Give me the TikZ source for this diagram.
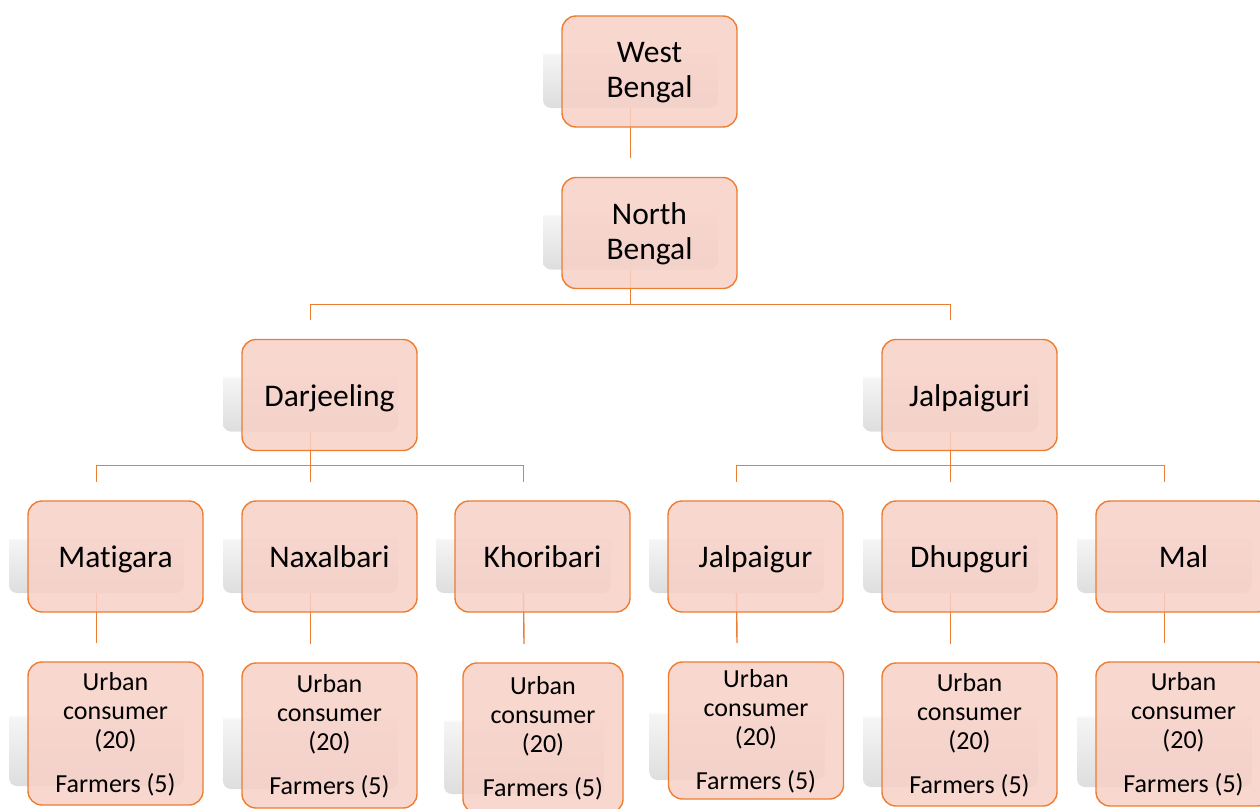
\documentclass[tikz,border=0pt]{standalone}
\usepackage{fontspec}
\setmainfont{Carlito}[Ligatures=CommonOff]
\definecolor{boxorange}{RGB}{237,125,49}
\definecolor{boxpink}{RGB}{247,208,199}
\pgfdeclareverticalshading{ghostfade}{100bp}{color(0bp)=(black!13); color(25bp)=(black!13); color(49bp)=(black!4); color(50bp)=(white); color(100bp)=(white)}
\tikzset{ghost/.style = {shade, shading=ghostfade, rounded corners=8pt, inner sep=0pt, minimum width=175pt, minimum height=111pt},
         box/.style = {draw=boxorange, line width=1.4pt, fill=boxpink, fill opacity=0.85, text opacity=1, rounded corners=14pt,
                       minimum width=175pt, minimum height=111pt, inner sep=2pt, text depth=3pt, align=center, font=\fontsize{31.5}{35}\selectfont},
         oneline/.style = {text height=25pt},
         small/.style = {font=\fontsize{26}{29}\selectfont},
         link/.style = {draw=boxorange, line width=1.4pt}}

\begin{document}
\begin{tikzpicture}[x=1pt,y=-1pt]
        \useasboundingbox (0,0) rectangle (1260,808);
        \clip (0,0) rectangle (1260,808);
        % grey shapes behind the boxes
        \node[ghost] (wb) at (630.5,52.5) {};
        \node[ghost] (nb) at (630.5,214) {};
        \node[ghost] (dj) at (310.5,376) {};
        \node[ghost] (jp) at (950.5,376) {};
        \node[ghost] (mt) at (96.5,537.5) {};
        \node[ghost] (nx) at (310.5,537.5) {};
        \node[ghost] (kb) at (523.5,537.5) {};
        \node[ghost] (jg) at (736.5,537.5) {};
        \node[ghost] (dh) at (950.5,537.5) {};
        \node[ghost] (ml) at (1164.5,537.5) {};
        \node[ghost, minimum height=143pt] (urbmt) at (96.5,714.5) {};
        \node[ghost, minimum height=145pt] (urbnx) at (310.5,716.5) {};
        \node[ghost, minimum height=150pt, minimum width=160pt] (urbkb) at (524,719) {};
        \node[ghost, minimum height=137pt] (urbjg) at (737,711.5) {};
        \node[ghost, minimum height=143pt] (urbdh) at (950.5,715.5) {};
        \node[ghost, minimum height=144pt] (urbml) at (1164.5,715) {};

        % links
        \draw[link] (wb.south) -- (nb.north);
        \draw[link] (nb.south) -- ++(0,35) -| (dj.north);
        \draw[link] (nb.south) -- ++(0,35) -| (jp.north);
        \draw[link] (dj.south) -- ++(0,34) -| (mt.north);
        \draw[link] (dj.south) -- ++(0,34) -| (nx.north);
        \draw[link] (dj.south) -- ++(0,34) -| (kb.north);
        \draw[link] (jp.south) -- ++(0,34) -| (jg.north);
        \draw[link] (jp.south) -- ++(0,34) -| (dh.north);
        \draw[link] (jp.south) -- ++(0,34) -| (ml.north);
        \draw[link] (mt.south) -- (urbmt.north);
        \draw[link] (nx.south) -- (urbnx.north);
        \draw[link] (kb.south) -- (urbkb.north);
        \draw[link] (jg.south) -- (urbjg.north);
        \draw[link] (dh.south) -- (urbdh.north);
        \draw[link] (ml.south) -- (urbml.north);

        % boxes
        \node[box] (wb-txt) at ([shift={(19,19)}]wb) {West\\Bengal};
        \node[box] (nb-txt) at ([shift={(19,19)}]nb) {North\\Bengal};
        \node[box, oneline] (dj-txt) at ([shift={(19,19)}]dj) {Darjeeling};
        \node[box, oneline] (jp-txt) at ([shift={(19,19)}]jp) {Jalpaiguri};
        \node[box, oneline] (mt-txt) at ([shift={(19,19)}]mt) {Matigara};
        \node[box, oneline] (nx-txt) at ([shift={(19,19)}]nx) {Naxalbari};
        \node[box, oneline] (kb-txt) at ([shift={(19,19)}]kb) {Khoribari};
        \node[box, oneline] (jg-txt) at ([shift={(19,19)}]jg) {Jalpaigur};
        \node[box, oneline] (dh-txt) at ([shift={(19,19)}]dh) {Dhupguri};
        \node[box, oneline] (ml-txt) at ([shift={(19,19)}]ml) {Mal};
        \node[box, small, minimum height=143pt] (urbmt-txt) at ([shift={(19,19)}]urbmt) {Urban\\consumer\\(20)\\[15pt]Farmers (5)};
        \node[box, small, minimum height=145pt] (urbnx-txt) at ([shift={(19,19)}]urbnx) {Urban\\consumer\\(20)\\[15pt]Farmers (5)};
        \node[box, small, minimum height=150pt, minimum width=160pt] (urbkb-txt) at ([shift={(19,19)}]urbkb) {Urban\\consumer\\(20)\\[15pt]Farmers (5)};
        \node[box, small, minimum height=137pt] (urbjg-txt) at ([shift={(19,19)}]urbjg) {Urban\\consumer\\(20)\\[15pt]Farmers (5)};
        \node[box, small, minimum height=143pt] (urbdh-txt) at ([shift={(19,19)}]urbdh) {Urban\\consumer\\(20)\\[15pt]Farmers (5)};
        \node[box, small, minimum height=144pt] (urbml-txt) at ([shift={(19,19)}]urbml) {Urban\\consumer\\(20)\\[15pt]Farmers (5)};
\end{tikzpicture}
\end{document}
